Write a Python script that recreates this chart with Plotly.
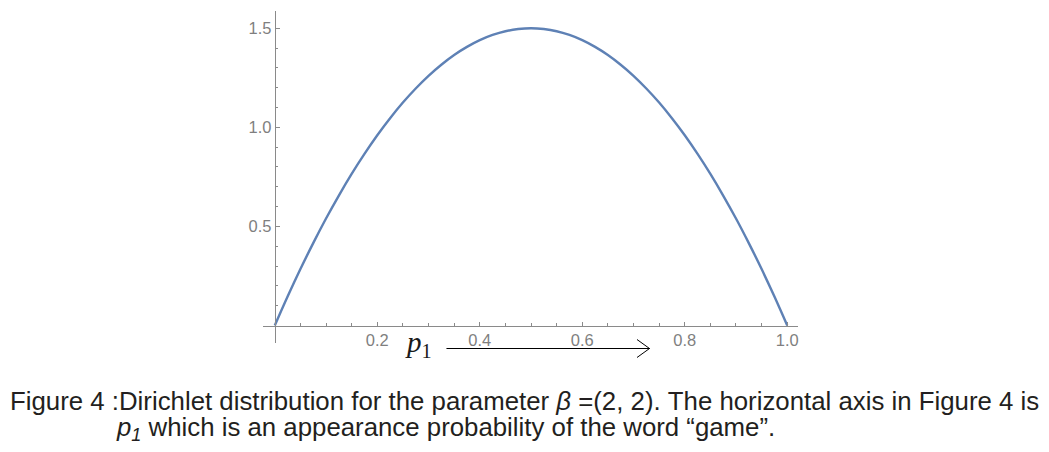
import plotly.graph_objects as go

# values
p_values = [0.0, 0.025, 0.05, 0.075, 0.10, 0.125, 0.15, 0.175, 0.20, 0.225,
            0.25, 0.275, 0.30, 0.325, 0.35, 0.375, 0.40, 0.425, 0.45, 0.475,
            0.50, 0.525, 0.55, 0.575, 0.60, 0.625, 0.65, 0.675, 0.70, 0.725,
            0.75, 0.775, 0.80, 0.825, 0.85, 0.875, 0.90, 0.925, 0.95, 0.975, 1.0]
density = [0.0, 0.146, 0.285, 0.416, 0.540, 0.656, 0.765, 0.866, 0.960, 1.046,
           1.125, 1.196, 1.260, 1.316, 1.365, 1.406, 1.440, 1.466, 1.485, 1.496,
           1.500, 1.496, 1.485, 1.466, 1.440, 1.406, 1.365, 1.316, 1.260, 1.196,
           1.125, 1.046, 0.960, 0.866, 0.765, 0.656, 0.540, 0.416, 0.285, 0.146, 0.0]

x_ticks = [0.2, 0.4, 0.6, 0.8, 1.0]
x_tick_labels = ["0.2", "0.4", "0.6", "0.8", "1.0"]
x_minor = [0.05, 0.1, 0.15, 0.25, 0.3, 0.35, 0.45, 0.5, 0.55, 0.65, 0.7, 0.75, 0.85, 0.9, 0.95]
y_ticks = [0.5, 1.0, 1.5]
y_tick_labels = ["0.5", "1.0", "1.5"]
y_minor = [0.1, 0.2, 0.3, 0.4, 0.6, 0.7, 0.8, 0.9, 1.1, 1.2, 1.3, 1.4]

caption_line1 = "Figure 4 :Dirichlet distribution for the parameter <i>β</i> =(2, 2). The horizontal axis in Figure 4 is"
caption_line2 = "<i>p<sub>1</sub></i> which is an appearance probability of the word “game”."

# page body has an 8px margin; the figure is sized so that window pixels map 1:1
OFF = 8
W, H = 1049 - OFF, 452 - OFF
ML, MT = 263 - OFF, 11 - OFF
PW, PH = 535, 332
MR = W - ML - PW
MB = H - MT - PH

x_range = [-0.023, 1.021]
y_range = [-0.088, 1.587]

def px_to_paper_x(px):
    return (px - OFF - ML) / PW

def px_to_paper_y(py):
    return (H - MB - (py - OFF)) / PH

axis_col = "#8a8a8a"
label_col = "#7f7f7f"

fig = go.Figure()
fig.add_trace(go.Scatter(
    x=p_values, y=density, mode="lines",
    line=dict(color="#5E81B5", width=2.4, shape="spline", smoothing=1.0),
    hoverinfo="skip", showlegend=False,
))

y0_pos = (0 - y_range[0]) / (y_range[1] - y_range[0])
x0_pos = (0 - x_range[0]) / (x_range[1] - x_range[0])

tick_font = dict(family="Liberation Sans, Arial, sans-serif", size=16.5, color=label_col)

fig.update_layout(
    width=W, height=H,
    margin=dict(l=ML, r=MR, t=MT, b=MB, pad=0, autoexpand=False),
    paper_bgcolor="white", plot_bgcolor="white",
    showlegend=False,
    xaxis=dict(
        range=x_range, domain=[0, 1], anchor="free", position=y0_pos,
        showgrid=False, zeroline=False, automargin=False,
        showline=True, linecolor=axis_col, linewidth=1,
        tickmode="array", tickvals=x_ticks, ticktext=x_tick_labels,
        ticks="inside", ticklen=4, tickcolor=axis_col, tickwidth=1,
        tickfont=tick_font,
        minor=dict(tickvals=x_minor, ticks="inside", ticklen=2.5, tickcolor=axis_col, tickwidth=1, showgrid=False),
        fixedrange=True,
    ),
    yaxis=dict(
        range=y_range, domain=[0, 1], anchor="free", position=x0_pos,
        showgrid=False, zeroline=False, automargin=False,
        showline=True, linecolor=axis_col, linewidth=1,
        tickmode="array", tickvals=y_ticks, ticktext=y_tick_labels,
        ticks="inside", ticklen=4, tickcolor=axis_col, tickwidth=1,
        tickfont=tick_font,
        minor=dict(tickvals=y_minor, ticks="inside", ticklen=2.5, tickcolor=axis_col, tickwidth=1, showgrid=False),
        fixedrange=True,
    ),
)

# p1 axis label with arrow
fig.add_annotation(
    x=px_to_paper_x(418), xref="paper", y=px_to_paper_y(344), yref="paper",
    text="<i>p</i><sub>1</sub>", showarrow=False,
    xanchor="center", yanchor="middle",
    font=dict(family="Liberation Serif, Times New Roman, serif", size=29, color="#1a1a1a"),
)
arrow_start, arrow_end = 0.335, 0.732
fig.add_shape(type="line", xref="x", yref="paper",
              x0=arrow_start, x1=arrow_end, y0=px_to_paper_y(348.5), y1=px_to_paper_y(348.5),
              line=dict(color="black", width=1))
fig.add_shape(type="path", xref="paper", yref="paper",
              path="M {a},{b} L {c},{d} L {a},{e}".format(
                  a=px_to_paper_x(637), b=px_to_paper_y(339.5),
                  c=px_to_paper_x(649.5), d=px_to_paper_y(348.5),
                  e=px_to_paper_y(357.5)),
              line=dict(color="black", width=1))

# caption
cap_font = dict(family="Liberation Sans, Arial, sans-serif", size=25.8, color="#231f20")
fig.add_annotation(
    x=px_to_paper_x(8), xref="paper", y=px_to_paper_y(401), yref="paper",
    text=caption_line1, showarrow=False, xanchor="left", yanchor="middle",
    font=cap_font,
)
fig.add_annotation(
    x=px_to_paper_x(114), xref="paper", y=px_to_paper_y(429), yref="paper",
    text=caption_line2, showarrow=False, xanchor="left", yanchor="middle",
    font=cap_font,
)

fig.write_html("out.html")
